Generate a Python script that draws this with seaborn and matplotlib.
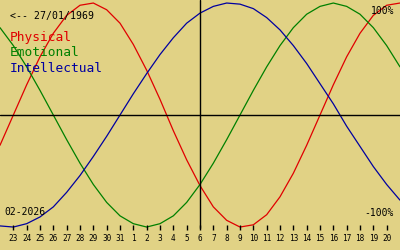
import numpy as np
import pandas as pd
import matplotlib
matplotlib.use("Agg")
import matplotlib.pyplot as plt
import seaborn as sns

# Day index 0 = 23 Jan 2026 ... index 28 = 20 Feb 2026; curves span -1..29
days = list(range(-1, 30))
physical = [-0.27, 0.00, 0.27, 0.52, 0.73, 0.89, 0.98, 1.00, 0.94, 0.82, 0.63,
            0.40, 0.14, -0.14, -0.40, -0.63, -0.82, -0.94, -1.00, -0.98, -0.89,
            -0.73, -0.52, -0.27, 0.00, 0.27, 0.52, 0.73, 0.89, 0.98, 1.00]
emotional = [0.78, 0.62, 0.43, 0.22, 0.00, -0.22, -0.43, -0.62, -0.78, -0.90,
             -0.97, -1.00, -0.97, -0.90, -0.78, -0.62, -0.43, -0.22, 0.00, 0.22,
             0.43, 0.62, 0.78, 0.90, 0.97, 1.00, 0.97, 0.90, 0.78, 0.62, 0.43]
intellectual = [-0.99, -1.00, -0.97, -0.91, -0.82, -0.69, -0.54, -0.37, -0.19,
                0.00, 0.19, 0.37, 0.54, 0.69, 0.82, 0.91, 0.97, 1.00, 0.99, 0.95,
                0.87, 0.76, 0.62, 0.46, 0.28, 0.10, -0.10, -0.28, -0.46, -0.62,
                -0.76]
tick_days = list(range(0, 29))
tick_labels = ["23", "24", "25", "26", "27", "28", "29", "30", "31",
               "1", "2", "3", "4", "5", "6", "7", "8", "9", "10", "11", "12",
               "13", "14", "15", "16", "17", "18", "19", "20"]
today = 14
birth_label = "<-- 27/01/1969"
month_label = "02-2026"
series_names = ["Physical", "Emotional", "Intellectual"]
colors = ["#e00000", "#008000", "#0000a0"]

bg = "#e1d285"
df = pd.DataFrame({"day": days * 3,
                   "value": physical + emotional + intellectual,
                   "series": [s for s in series_names for _ in days]})

sns.set_theme(style="white")
plt.rcParams['font.family'] = ['DejaVu Sans Mono', 'DejaVu Sans']

fig = plt.figure(figsize=(4, 2.5), dpi=100, facecolor=bg)
ax = fig.add_axes([0, 0, 1, 1], facecolor=bg)

sns.lineplot(data=df, x="day", y="value", hue="series", palette=colors,
             hue_order=series_names, legend=False, ax=ax, linewidth=0.9,
             antialiased=True)

ax.set_xlim(-1, 29)
ax.set_ylim(-1.205, 1.027)
ax.axhline(0, color="black", lw=1.0)
ax.axvline(today, ymin=0.088, ymax=1, color="black", lw=1.0)

ax.vlines(tick_days, -1.027, -0.982, color="black", lw=1.0)
for d, lab in zip(tick_days, tick_labels):
    ax.text(d, -1.098, lab, ha="center", va="center", fontsize=5.6, color="black")

ax.text(0.025, 0.935, birth_label, transform=ax.transAxes, fontsize=7.1,
        ha="left", va="center", color="black")
for i, (name, c) in enumerate(zip(series_names, colors)):
    ax.text(0.025, 0.848 - i * 0.06, name, transform=ax.transAxes, fontsize=9.3,
            ha="left", va="center", color=c)
ax.text(0.985, 0.955, "100%", transform=ax.transAxes, fontsize=7,
        ha="right", va="center", color="black")
ax.text(0.985, 0.148, "-100%", transform=ax.transAxes, fontsize=7,
        ha="right", va="center", color="black")
ax.text(0.01, 0.152, month_label, transform=ax.transAxes, fontsize=7,
        ha="left", va="center", color="black")

ax.set_xticks([])
ax.set_yticks([])
ax.set_xlabel("")
ax.set_ylabel("")
for s in ax.spines.values():
    s.set_visible(False)

fig.savefig("out.png", dpi=100, facecolor=bg)
